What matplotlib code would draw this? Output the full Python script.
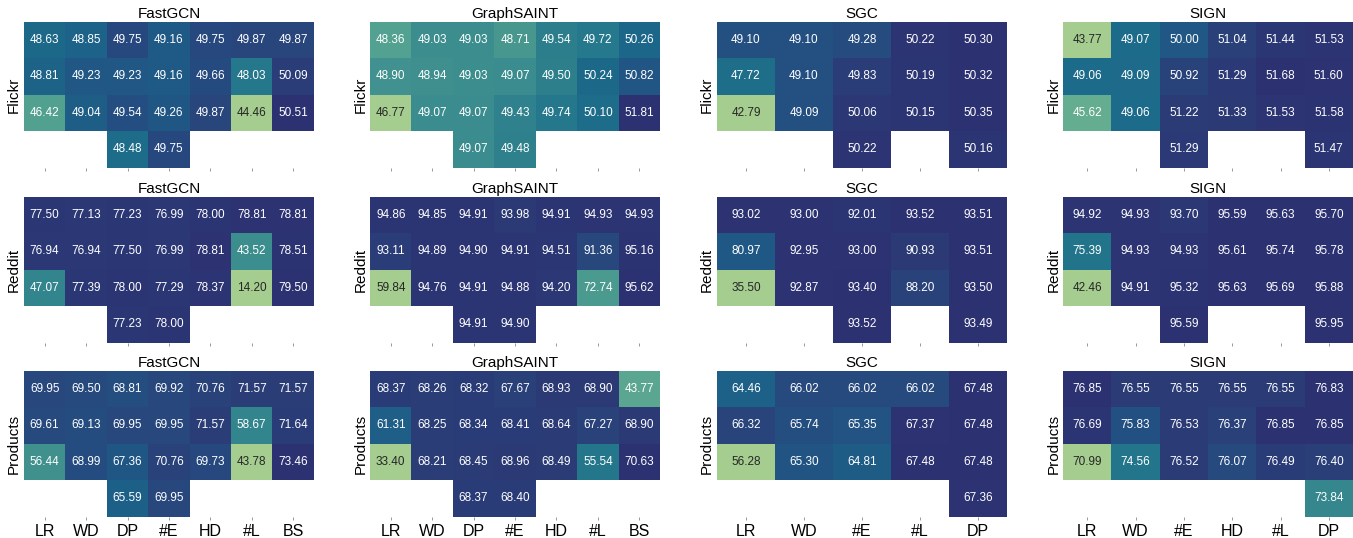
import numpy as np
import matplotlib.pyplot as plt
import seaborn as sns

nan = np.nan

# hyper-parameter labels per model
fastgcn_cols = ["LR", "WD", "DP", "#E", "HD", "#L", "BS"]
graphsaint_cols = ["LR", "WD", "DP", "#E", "HD", "#L", "BS"]
sgc_cols = ["LR", "WD", "#E", "#L", "DP"]
sign_cols = ["LR", "WD", "#E", "HD", "#L", "DP"]

models = ["FastGCN", "GraphSAINT", "SGC", "SIGN"]
datasets = ["Flickr", "Reddit", "Products"]

# accuracy tables (4 settings per hyper-parameter)
fastgcn_flickr = [
    [48.63, 48.85, 49.75, 49.16, 49.75, 49.87, 49.87],
    [48.81, 49.23, 49.23, 49.16, 49.66, 48.03, 50.09],
    [46.42, 49.04, 49.54, 49.26, 49.87, 44.46, 50.51],
    [nan, nan, 48.48, 49.75, nan, nan, nan],
]
fastgcn_reddit = [
    [77.50, 77.13, 77.23, 76.99, 78.00, 78.81, 78.81],
    [76.94, 76.94, 77.50, 76.99, 78.81, 43.52, 78.51],
    [47.07, 77.39, 78.00, 77.29, 78.37, 14.20, 79.50],
    [nan, nan, 77.23, 78.00, nan, nan, nan],
]
fastgcn_products = [
    [69.95, 69.50, 68.81, 69.92, 70.76, 71.57, 71.57],
    [69.61, 69.13, 69.95, 69.95, 71.57, 58.67, 71.64],
    [56.44, 68.99, 67.36, 70.76, 69.73, 43.78, 73.46],
    [nan, nan, 65.59, 69.95, nan, nan, nan],
]
graphsaint_flickr = [
    [48.36, 49.03, 49.03, 48.71, 49.54, 49.72, 50.26],
    [48.90, 48.94, 49.03, 49.07, 49.50, 50.24, 50.82],
    [46.77, 49.07, 49.07, 49.43, 49.74, 50.10, 51.81],
    [nan, nan, 49.07, 49.48, nan, nan, nan],
]
graphsaint_reddit = [
    [94.86, 94.85, 94.91, 93.98, 94.91, 94.93, 94.93],
    [93.11, 94.89, 94.90, 94.91, 94.51, 91.36, 95.16],
    [59.84, 94.76, 94.91, 94.88, 94.20, 72.74, 95.62],
    [nan, nan, 94.91, 94.90, nan, nan, nan],
]
graphsaint_products = [
    [68.37, 68.26, 68.32, 67.67, 68.93, 68.90, 43.77],
    [61.31, 68.25, 68.34, 68.41, 68.64, 67.27, 68.90],
    [33.40, 68.21, 68.45, 68.96, 68.49, 55.54, 70.63],
    [nan, nan, 68.37, 68.40, nan, nan, nan],
]
sgc_flickr = [
    [49.10, 49.10, 49.28, 50.22, 50.30],
    [47.72, 49.10, 49.83, 50.19, 50.32],
    [42.79, 49.09, 50.06, 50.15, 50.35],
    [nan, nan, 50.22, nan, 50.16],
]
sgc_reddit = [
    [93.02, 93.00, 92.01, 93.52, 93.51],
    [80.97, 92.95, 93.00, 90.93, 93.51],
    [35.50, 92.87, 93.40, 88.20, 93.50],
    [nan, nan, 93.52, nan, 93.49],
]
sgc_products = [
    [64.46, 66.02, 66.02, 66.02, 67.48],
    [66.32, 65.74, 65.35, 67.37, 67.48],
    [56.28, 65.30, 64.81, 67.48, 67.48],
    [nan, nan, nan, nan, 67.36],
]
sign_flickr = [
    [43.77, 49.07, 50.00, 51.04, 51.44, 51.53],
    [49.06, 49.09, 50.92, 51.29, 51.68, 51.60],
    [45.62, 49.06, 51.22, 51.33, 51.53, 51.58],
    [nan, nan, 51.29, nan, nan, 51.47],
]
sign_reddit = [
    [94.92, 94.93, 93.70, 95.59, 95.63, 95.70],
    [75.39, 94.93, 94.93, 95.61, 95.74, 95.78],
    [42.46, 94.91, 95.32, 95.63, 95.69, 95.88],
    [nan, nan, 95.59, nan, nan, 95.95],
]
sign_products = [
    [76.85, 76.55, 76.55, 76.55, 76.55, 76.83],
    [76.69, 75.83, 76.53, 76.37, 76.85, 76.85],
    [70.99, 74.56, 76.52, 76.07, 76.49, 76.40],
    [nan, nan, nan, nan, nan, 73.84],
]

tables = [
    [fastgcn_flickr, graphsaint_flickr, sgc_flickr, sign_flickr],
    [fastgcn_reddit, graphsaint_reddit, sgc_reddit, sign_reddit],
    [fastgcn_products, graphsaint_products, sgc_products, sign_products],
]
col_labels = [fastgcn_cols, graphsaint_cols, sgc_cols, sign_cols]

plt.rcParams["font.family"] = ["Liberation Sans", "DejaVu Sans"]

fig = plt.figure(figsize=(13.53, 5.38), dpi=100)

lefts = [0.0177, 0.2735, 0.5299, 0.7857]
bottoms = [0.6883, 0.3630, 0.0396]
w, h = 0.2143, 0.2714

for i, ds in enumerate(datasets):
    for j, model in enumerate(models):
        ax = fig.add_axes([lefts[j], bottoms[i], w, h])
        data = np.array(tables[i][j], dtype=float)
        sns.heatmap(data, ax=ax, cmap="crest", annot=True, fmt=".2f",
                    annot_kws={"size": 8.5}, cbar=False,
                    xticklabels=col_labels[j] if i == 2 else False,
                    yticklabels=False)
        if i != 2:
            ax.set_xticks(np.arange(len(col_labels[j])) + 0.5)
            ax.set_xticklabels([])
        ax.set_title(model, fontsize=11, pad=3)
        ax.set_ylabel(ds, fontsize=11, labelpad=2)
        ax.tick_params(axis="x", length=2, width=0.6, color="#888888",
                       labelsize=11.5, pad=3, rotation=0)
        ax.tick_params(axis="y", length=0)

plt.savefig("out.png", dpi=100)
